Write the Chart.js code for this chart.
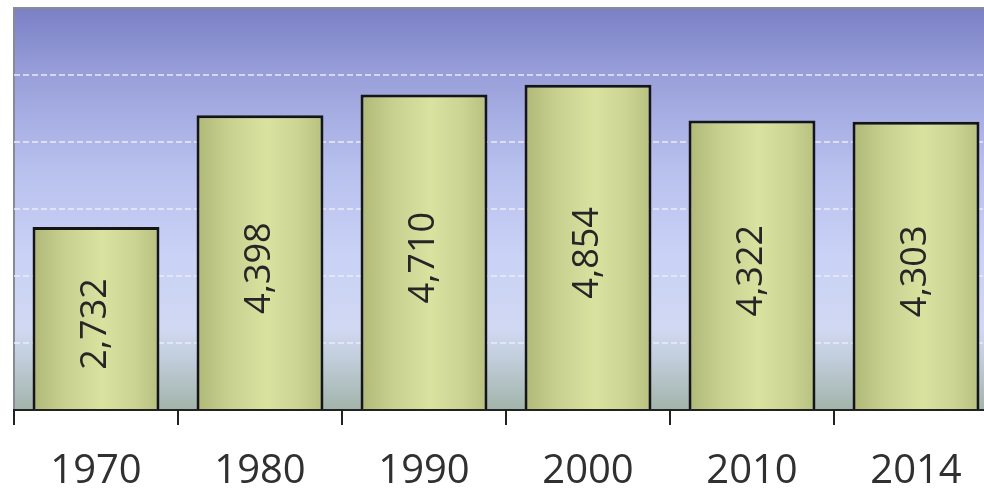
<!DOCTYPE html>
<html>
<head>
<meta charset="utf-8">
<script src="https://cdn.jsdelivr.net/npm/chart.js@4/dist/chart.umd.min.js"></script>
<style>
    html, body { margin: 0; padding: 0; background: #fff; overflow: hidden; }
    #wrap { width: 1000px; height: 490px; }
</style>
</head>
<body>
<div id="wrap"><canvas id="chart" width="1000" height="490"></canvas></div>
<script>
// ===== Data =====
const years = ['1970', '1980', '1990', '2000', '2010', '2014'];
const values = [2732, 4398, 4710, 4854, 4322, 4303];
const yTicks = [0, 1000, 2000, 3000, 4000, 5000, 6000];

const BAR_FRACTION = 0.774;
const FONT = '"Open Sans", "Liberation Sans", sans-serif';

// ===== Plot background: blue top fading to green-grey bottom =====
const plotBackground = {
    id: 'plotBackground',
    beforeDraw(chart) {
        const { ctx, chartArea: a } = chart;
        const g = ctx.createLinearGradient(0, a.top, 0, a.bottom);
        g.addColorStop(0, '#7a80c4');
        g.addColorStop(0.17, '#99a0da');
        g.addColorStop(0.4, '#b8c0ee');
        g.addColorStop(0.62, '#cad2f6');
        g.addColorStop(0.8, '#d0d8f2');
        g.addColorStop(0.87, '#c2cedc');
        g.addColorStop(1, '#a2b4aa');
        ctx.save();
        ctx.fillStyle = g;
        ctx.fillRect(a.left, a.top, a.right - a.left, a.bottom - a.top);
        ctx.strokeStyle = '#8a8a96';
        ctx.lineWidth = 2;
        ctx.beginPath();
        ctx.moveTo(a.left, a.bottom);
        ctx.lineTo(a.left, a.top);
        ctx.lineTo(a.right, a.top);
        ctx.stroke();
        ctx.restore();
    }
};

// ===== Rotated value labels inside bars =====
const barLabels = {
    id: 'barLabels',
    afterDatasetsDraw(chart) {
        const { ctx } = chart;
        const meta = chart.getDatasetMeta(0);
        ctx.save();
        ctx.fillStyle = '#262626';
        ctx.font = '36px ' + FONT;
        ctx.textAlign = 'center';
        ctx.textBaseline = 'middle';
        meta.data.forEach((bar, i) => {
            const cy = (bar.y + bar.base) / 2 + 6;
            ctx.save();
            ctx.translate(bar.x, cy);
            ctx.rotate(-Math.PI / 2);
            ctx.fillText(values[i].toLocaleString('en-US'), 0, 0);
            ctx.restore();
        });
        ctx.restore();
    }
};

// bar fill: horizontal olive gradient, light in the middle
function barFill(context) {
    const chart = context.chart;
    if (!chart.chartArea) return '#c8d090';
    const xs = chart.scales.x;
    const cx = xs.getPixelForValue(context.dataIndex);
    const half = xs.width / years.length * BAR_FRACTION / 2;
    const g = chart.ctx.createLinearGradient(cx - half, 0, cx + half, 0);
    g.addColorStop(0, '#b0b878');
    g.addColorStop(0.25, '#c8d090');
    g.addColorStop(0.55, '#dae2a0');
    g.addColorStop(0.8, '#ccd494');
    g.addColorStop(1, '#b8c080');
    return g;
}

new Chart(document.getElementById('chart'), {
    type: 'bar',
    data: {
        labels: years,
        datasets: [{
            data: values,
            backgroundColor: barFill,
            borderColor: '#151515',
            borderWidth: 3,
            borderSkipped: 'bottom',
            barPercentage: BAR_FRACTION,
            categoryPercentage: 1
        }]
    },
    options: {
        responsive: false,
        animation: false,
        layout: { padding: { left: 14, top: 8, right: 2, bottom: 0 } },
        plugins: { legend: { display: false }, tooltip: { enabled: false } },
        scales: {
            x: {
                afterFit: axis => { axis.height = 80; },
                grid: {
                    offset: true,
                    drawOnChartArea: false,
                    drawTicks: true,
                    tickLength: 15,
                    color: '#222',
                    lineWidth: 2
                },
                border: { display: true, color: '#222', width: 2 },
                ticks: {
                    color: '#303030',
                    font: { family: FONT, size: 40 },
                    padding: 23,
                    maxRotation: 0
                }
            },
            y: {
                min: 0,
                max: 6000,
                afterBuildTicks: axis => { axis.ticks = yTicks.map(v => ({ value: v })); },
                ticks: { display: false },
                grid: {
                    drawTicks: false,
                    color: c => (c.tick && (c.tick.value === 0 || c.tick.value === 6000)) ? 'rgba(0,0,0,0)' : 'rgba(235,235,250,0.75)',
                    lineWidth: 2
                },
                border: { display: false, dash: [6, 3] }
            }
        }
    },
    plugins: [plotBackground, barLabels]
});
</script>
</body>
</html>
